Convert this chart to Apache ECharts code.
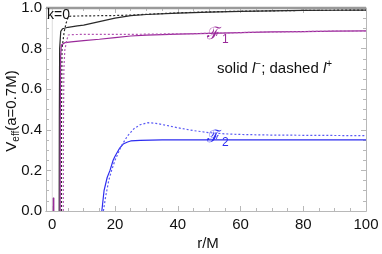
<!DOCTYPE html>
<html><head><meta charset="utf-8">
<script src="https://cdn.jsdelivr.net/npm/echarts@6/dist/echarts.min.js"></script>
<style>html,body{margin:0;padding:0;background:#fff}#c{width:382px;height:254px}</style>
</head><body><div id="c"></div>
<script>
// ---- data ----
const xTickLabels = [0, 20, 40, 60, 80, 100];
const xMinorTicks = [5, 10, 15, 25, 30, 35, 45, 50, 55, 65, 70, 75, 85, 90, 95];

const blackSolidR = [2.2, 2.25, 2.35, 2.7, 3.3, 5, 8, 10, 15, 20, 25, 30, 40, 50, 60, 70, 80, 90, 100];
const blackSolidV = [0, 0.45, 0.8, 0.885, 0.898, 0.905, 0.912, 0.916, 0.933, 0.95, 0.962, 0.968, 0.975, 0.98, 0.983, 0.986, 0.988, 0.989, 0.99];

const blackDashedR = [2.9, 2.95, 3.1, 3.8, 4.4, 5.1, 6, 10, 15, 20, 25, 30, 40, 50, 60, 70, 80, 90, 100];
const blackDashedV = [0, 0.45, 0.8, 0.883, 0.925, 0.957, 0.96, 0.961, 0.962, 0.963, 0.965, 0.969, 0.976, 0.981, 0.984, 0.986, 0.988, 0.989, 0.99];

const innerR = [0.4, 0.4];
const innerV = [0, 0.065];

const purpleSolidR = [2.5, 2.55, 2.65, 2.9, 4, 6, 10, 15, 20, 25, 30, 40, 50, 60, 70, 80, 90, 100];
const purpleSolidV = [0, 0.45, 0.76, 0.818, 0.829, 0.833, 0.839, 0.846, 0.854, 0.862, 0.866, 0.871, 0.875, 0.879, 0.882, 0.884, 0.886, 0.887];

const purpleDashedR = [3.5, 3.55, 3.7, 4.0, 4.6, 5.1, 6, 10, 15, 20, 25, 30, 40, 50, 60, 70, 80, 90, 100];
const purpleDashedV = [0, 0.4, 0.7, 0.793, 0.84, 0.867, 0.869, 0.87, 0.87, 0.87, 0.87, 0.871, 0.873, 0.875, 0.879, 0.882, 0.884, 0.886, 0.887];

const blueSolidR = [15.8, 16.5, 17.5, 18.4, 19.4, 20, 21.5, 22.6, 24, 25, 28, 35, 50, 70, 100];
const blueSolidV = [0, 0.1, 0.165, 0.2, 0.25, 0.27, 0.31, 0.33, 0.34, 0.345, 0.348, 0.35, 0.35, 0.35, 0.35];

const blueDashedR = [16.3, 17, 18, 18.9, 20, 22, 24, 26, 28, 30.5, 33, 36, 40, 45, 50, 55, 60, 70, 80, 90, 100];
const blueDashedV = [0, 0.07, 0.15, 0.2, 0.25, 0.32, 0.37, 0.405, 0.425, 0.435, 0.432, 0.423, 0.41, 0.396, 0.386, 0.38, 0.377, 0.374, 0.373, 0.372, 0.371];

const k0R = [-2, 100];
const k0V = [1, 1];
const zeroAxisR = [0, 0];
const zeroAxisV = [0, 1];

function pairs(r, v) { return r.map((x, i) => [x, v[i]]); }

const FONT = '"Liberation Sans", Arial, sans-serif';
const FRAME = '#b8b8b8';
const C_BLACK = '#2a2a2a', C_PURPLE = '#9a2a9a', C_PURPLE_D = '#b455b4', C_BLUE = '#2d2df0', C_BLUE_D = '#5a5af5';

function xAx(pos, major) {
  return {
    type: 'value', position: pos, min: -2, max: 100, gridIndex: 0,
    axisLine: { show: true, onZero: false, lineStyle: { color: FRAME, width: 1 } },
    axisTick: { show: true, inside: true, length: major ? 5 : 3, customValues: major ? xTickLabels : xMinorTicks, lineStyle: { color: FRAME } },
    axisLabel: { show: major && pos === 'bottom', customValues: xTickLabels, fontSize: 15, color: '#111', fontFamily: FONT, margin: 6 },
    splitLine: { show: false }
  };
}
function yAx(pos, showLabel) {
  return {
    type: 'value', position: pos, min: 0, max: 1, interval: 0.2, gridIndex: 0,
    axisLine: { show: true, onZero: false, lineStyle: { color: FRAME, width: 1 } },
    axisTick: { show: true, inside: true, length: 5, lineStyle: { color: FRAME } },
    minorTick: { show: true, splitNumber: 4, length: 3, lineStyle: { color: FRAME } },
    axisLabel: { show: showLabel, fontSize: 15, color: '#111', fontFamily: FONT, margin: 4, formatter: v => v.toFixed(1) },
    splitLine: { show: false }
  };
}

function line(data, color, width, dashed, z) {
  return {
    type: 'line', data: data, xAxisIndex: 0, yAxisIndex: 0, showSymbol: false, symbol: 'none',
    animation: false, z: z || 2, clip: true,
    lineStyle: { color: color, width: width, type: dashed ? [2, 2] : 'solid' }
  };
}

const chart = echarts.init(document.getElementById('c'), null, { renderer: 'canvas' });
chart.setOption({
  animation: false,
  backgroundColor: '#fff',
  grid: { left: 46, right: 16, top: 8, bottom: 43, containLabel: false },
  xAxis: [xAx('bottom', true), xAx('bottom', false), xAx('top', true), xAx('top', false)],
  yAxis: [yAx('left', true), yAx('right', false)],
  series: [
    line(pairs(zeroAxisR, zeroAxisV), '#dcdcdc', 1, false, 1),
    Object.assign(line(pairs(k0R, k0V), '#9a9a9a', 2.5, false, 3), { clip: false }),
    line(pairs(blackSolidR, blackSolidV), C_BLACK, 1.2, false, 4),
    line(pairs(blackDashedR, blackDashedV), C_BLACK, 1.2, true, 4),
    line(pairs(innerR, innerV), C_BLACK, 1.2, false, 4),
    line(pairs(purpleSolidR, purpleSolidV), C_PURPLE, 1.2, false, 5),
    line(pairs(purpleDashedR, purpleDashedV), C_PURPLE_D, 1.2, true, 5),
    line(pairs(innerR, innerV), C_PURPLE, 1.5, false, 5),
    line(pairs(blueSolidR, blueSolidV), C_BLUE, 1.2, false, 5),
    line(pairs(blueDashedR, blueDashedV), C_BLUE_D, 1.2, true, 5)
  ],
  graphic: [
    { type: 'text', x: 12, y: 111, rotation: Math.PI / 2, z: 10,
      style: { text: '{v|V}{s|eff}{v|(a=0.7M)}', align: 'center', verticalAlign: 'middle', fill: '#111',
        rich: { v: { fontSize: 15, fontFamily: FONT, fill: '#111' }, s: { fontSize: 10, fontFamily: FONT, fill: '#111', padding: [8, 0, 0, 0] } } } },
    { type: 'text', x: 208, y: 244, z: 10,
      style: { text: 'r/M', fontSize: 15, fontFamily: FONT, fill: '#111', align: 'center', verticalAlign: 'middle' } },
    { type: 'text', x: 47, y: 15, z: 10,
      style: { text: 'k=0', fontSize: 14, fontFamily: FONT, fill: '#111', align: 'left', verticalAlign: 'middle' } },
    { type: 'text', x: 207, y: 35, z: 10,
      style: { text: '{f|ℱ}{s|1}', align: 'left', verticalAlign: 'middle',
        rich: { f: { fontSize: 17, fontFamily: '"DejaVu Serif", serif', fill: C_PURPLE }, s: { fontSize: 12, fontFamily: FONT, fill: C_PURPLE, padding: [10, 0, 0, 1] } } } },
    { type: 'text', x: 207, y: 138, z: 10,
      style: { text: '{f|ℱ}{s|2}', align: 'left', verticalAlign: 'middle',
        rich: { f: { fontSize: 17, fontFamily: '"DejaVu Serif", serif', fill: C_BLUE }, s: { fontSize: 12, fontFamily: FONT, fill: C_BLUE, padding: [10, 0, 0, 1] } } } },
    { type: 'text', x: 217, y: 69, z: 10,
      style: { text: '{t|solid }{i|l}{p|−}{t|; dashed }{i|l}{p|+}', align: 'left', verticalAlign: 'middle',
        rich: { t: { fontSize: 15, fontFamily: FONT, fill: '#111' }, i: { fontSize: 15, fontFamily: FONT, fontStyle: 'italic', fill: '#111' },
          p: { fontSize: 10, fontFamily: FONT, fill: '#111', padding: [0, 0, 9, 0] } } } }
  ]
});
</script></body></html>
